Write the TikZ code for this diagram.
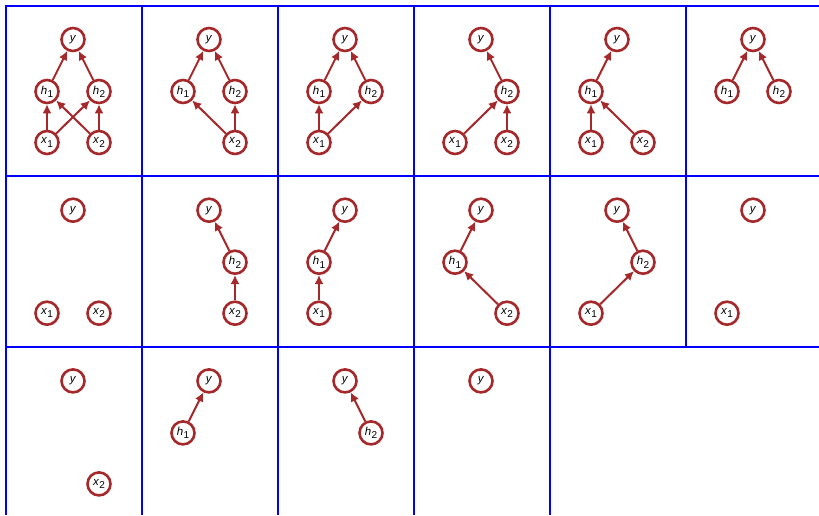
\documentclass[tikz,border=0pt]{standalone}
\usepackage{fontspec}
\setmainfont{Liberation Sans}
\usetikzlibrary{arrows.meta}
\definecolor{dred}{RGB}{165,40,42}
\newcommand\lbl[2]{\textit{#1}\kern0.3pt\raisebox{-0.55ex}{\fontsize{10}{11}\selectfont #2}}
\expandafter\def\csname posy\endcsname{67.5,34}
\expandafter\def\csname posh1\endcsname{41.5,86}
\expandafter\def\csname posh2\endcsname{93.5,86}
\expandafter\def\csname posx1\endcsname{41.5,137}
\expandafter\def\csname posx2\endcsname{93.5,137}
\expandafter\def\csname laby\endcsname{\textit{y}}
\expandafter\def\csname labh1\endcsname{\lbl{h}{1}}
\expandafter\def\csname labh2\endcsname{\lbl{h}{2}}
\expandafter\def\csname labx1\endcsname{\lbl{x}{1}}
\expandafter\def\csname labx2\endcsname{\lbl{x}{2}}
\def\nonetok{none}
\tikzset{
  nd/.style={circle, draw=dred, line width=2.6pt, minimum size=23pt, inner sep=0pt, fill=white, font=\fontsize{11.5}{13}\selectfont},
  ar/.style={-{Latex[length=9pt,width=9pt]}, draw=dred, fill=dred, line width=2pt},
  gl/.style={draw=blue, line width=2pt}
}
\begin{document}
\begin{tikzpicture}[x=1pt,y=-1pt]
\useasboundingbox (0,0) rectangle (819,515);
% grid
\draw[gl] (5,6) -- (819,6);
\draw[gl] (5,176) -- (819,176);
\draw[gl] (5,347) -- (819,347);
\draw[gl] (6,5) -- (6,515);
\draw[gl] (142,5) -- (142,515);
\draw[gl] (278,5) -- (278,515);
\draw[gl] (414,5) -- (414,515);
\draw[gl] (550,5) -- (550,515);
\draw[gl] (686,5) -- (686,347);
% cells
\foreach \k/\c/\r/\ns/\es in {
  a/0/0/{y,h1,h2,x1,x2}/{x1/h1,x1/h2,x2/h1,x2/h2,h1/y,h2/y},
  b/1/0/{y,h1,h2,x2}/{x2/h1,x2/h2,h1/y,h2/y},
  c/2/0/{y,h1,h2,x1}/{x1/h1,x1/h2,h1/y,h2/y},
  d/3/0/{y,h2,x1,x2}/{x1/h2,x2/h2,h2/y},
  e/4/0/{y,h1,x1,x2}/{x1/h1,x2/h1,h1/y},
  f/5/0/{y,h1,h2}/{h1/y,h2/y},
  g/0/1/{y,x1,x2}/{none/none},
  h/1/1/{y,h2,x2}/{x2/h2,h2/y},
  i/2/1/{y,h1,x1}/{x1/h1,h1/y},
  j/3/1/{y,h1,x2}/{x2/h1,h1/y},
  k/4/1/{y,h2,x1}/{x1/h2,h2/y},
  l/5/1/{y,x1}/{none/none},
  m/0/2/{y,x2}/{none/none},
  n/1/2/{y,h1}/{h1/y},
  o/2/2/{y,h2}/{h2/y},
  p/3/2/{y}/{none/none}}{%
  \begin{scope}[shift={(5.5+136*\c,5.5+170.7*\r)}]
    \foreach \n in \ns {
      \edef\tmppos{\csname pos\n\endcsname}
      \node[nd] (\k-\n) at (\tmppos) {\csname lab\n\endcsname};
    }
    \foreach \aa/\bb in \es {
      \edef\tmpa{\aa}
      \ifx\tmpa\nonetok\else
        \draw[ar] (\k-\aa) -- (\k-\bb);
      \fi
    }
  \end{scope}
}
\end{tikzpicture}
\end{document}
